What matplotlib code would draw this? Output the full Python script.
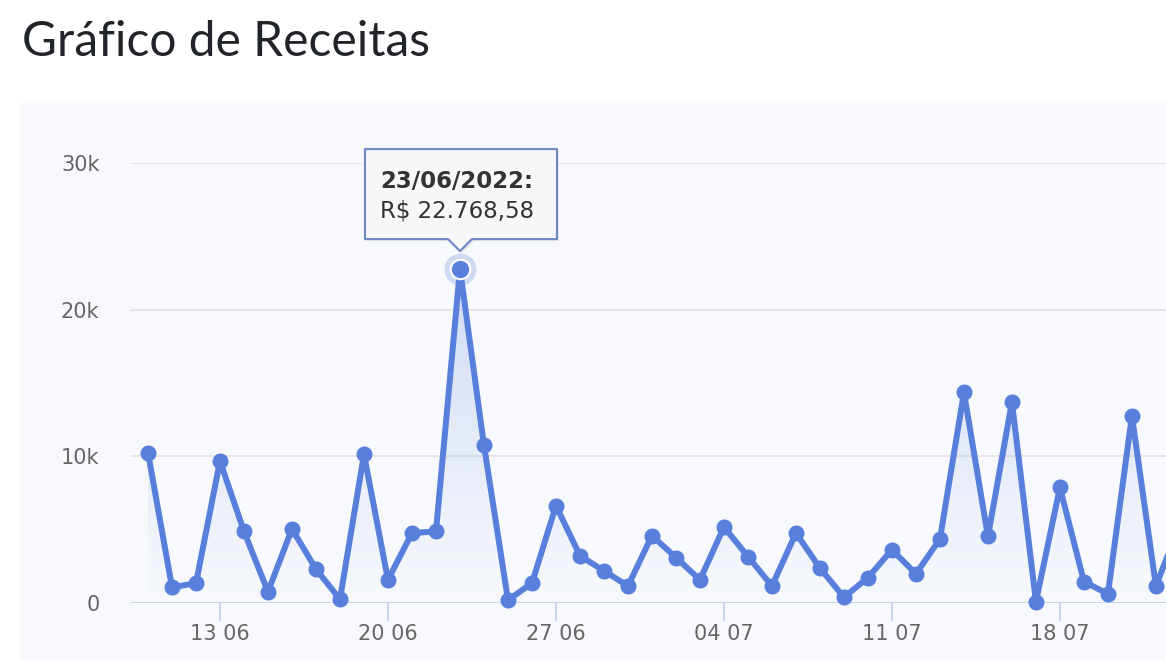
import numpy as np
import matplotlib
matplotlib.use('Agg')
import matplotlib.pyplot as plt
import matplotlib.dates as mdate
from matplotlib.patches import Rectangle, Polygon
from matplotlib.transforms import Affine2D, ScaledTranslation
from datetime import datetime, timedelta

# daily revenue, 10/06/2022 .. 23/07/2022
start_day = datetime(2022, 6, 10)
revenue = [10250, 1070, 1350, 9680, 4880, 770, 5050, 2310, 250, 10140,
           1580, 4770, 4880, 22768.58, 10750, 200, 1350, 6640, 3220, 2190,
           1160, 4590, 3100, 1580, 5180, 3170, 1160, 4770, 2380, 390,
           1730, 3630, 1990, 4360, 14360, 4540, 13700, 90, 7880, 1460,
           620, 12760, 1160, 5400]
days = [start_day + timedelta(days=i) for i in range(len(revenue))]

tick_days = [datetime(2022, 6, 13) + timedelta(days=7 * i) for i in range(6)]
y_ticks = [0, 10000, 20000, 30000]
y_labels = ['0', '10k', '20k', '30k']

hover_index = 13
tooltip_date = '23/06/2022:'
tooltip_value = 'R$ 22.768,58'

line_color = '#587fdc'
label_color = '#666666'

fig = plt.figure(figsize=(11.66, 6.6), dpi=100)
fig.patch.set_facecolor('white')

# panel background
fig.patches.append(Rectangle((20 / 1166, 0), 1.0, (660 - 103) / 660,
                             transform=fig.transFigure, facecolor='#f7f9fc',
                             edgecolor='none', zorder=-5))

fig.text(22 / 1166, (660 - 56) / 660, 'Gráfico de Receitas', fontsize=34.5,
         family='Lato', color='#212529', va='baseline', ha='left')

ax = fig.add_axes([130 / 1166, (660 - 603) / 660, (1190 - 130) / 1166, 440 / 660])
ax.set_facecolor('none')
for s in ax.spines.values():
    s.set_visible(False)

x = mdate.date2num(days)
y = np.array(revenue)

# gradient area under the line
fill = ax.fill_between(x, 0, y, facecolor='none', edgecolor='none')
grad = np.zeros((256, 2, 4))
rgb = matplotlib.colors.to_rgb(line_color)
grad[:, :, 0], grad[:, :, 1], grad[:, :, 2] = rgb
grad[:, :, 3] = np.linspace(0.32, 0.0, 256)[:, None]
img = ax.imshow(grad, aspect='auto', extent=[x[0], x[-1], 0, 30000],
                origin='upper', zorder=1)
img.set_clip_path(fill.get_paths()[0], transform=ax.transData)

ax.plot(x, y, color=line_color, lw=4.3, marker='o', ms=10.5, zorder=3,
        clip_on=False, solid_joinstyle='round')

# hovered point
hx, hy = x[hover_index], y[hover_index]
ax.plot([hx], [hy], 'o', ms=23, color=line_color, alpha=0.25, mec='none',
        zorder=4, clip_on=False)
ax.plot([hx], [hy], 'o', ms=14, color=line_color, mec='white', mew=1.5,
        zorder=5, clip_on=False)

ax.axhline(0, color='#ccd6eb', lw=1.5, zorder=2)

ax.set_xlim(start_day - timedelta(hours=18), start_day + timedelta(days=43.42))
ax.set_ylim(0, 30000)

ax.set_yticks(y_ticks)
ax.set_yticklabels(y_labels)
ax.yaxis.grid(True, color='#e6e6e6', lw=1.5, zorder=0)
ax.set_axisbelow(True)
ax.tick_params(axis='y', length=0, pad=22, labelsize=15, labelcolor=label_color)

ax.set_xticks(mdate.date2num(tick_days))
ax.xaxis.set_major_formatter(mdate.DateFormatter('%d %m'))
ax.tick_params(axis='x', length=13, width=1.5, color='#ccd6eb', pad=2,
               labelsize=15, labelcolor=label_color)

# tooltip (offsets in pixels from the hovered point)
px = Affine2D().scale(1 / fig.dpi) + fig.dpi_scale_trans + \
    ScaledTranslation(hx, hy, ax.transData)
box = [(-95, 30), (-12, 30), (0, 18), (12, 30), (97, 30), (97, 120), (-95, 120)]
shadow = Polygon([(a + 2, b - 2) for a, b in box], closed=True, transform=px,
                 facecolor='black', alpha=0.08, edgecolor='none', zorder=6,
                 clip_on=False)
tip = Polygon(box, closed=True, transform=px, facecolor='#f7f7f7',
              edgecolor='#6d88c4', lw=1.5, zorder=7, clip_on=False, joinstyle='round')
ax.add_patch(shadow)
ax.add_patch(tip)
ax.annotate(tooltip_date, (hx, hy), xytext=(-80, 88), textcoords='offset pixels',
            fontsize=16.5, fontweight='bold', color='#333333', va='center',
            ha='left', zorder=8, annotation_clip=False)
ax.annotate(tooltip_value, (hx, hy), xytext=(-80, 58), textcoords='offset pixels',
            fontsize=16.5, color='#333333', va='center', ha='left', zorder=8,
            annotation_clip=False)

fig.savefig('out.png', dpi=100)
